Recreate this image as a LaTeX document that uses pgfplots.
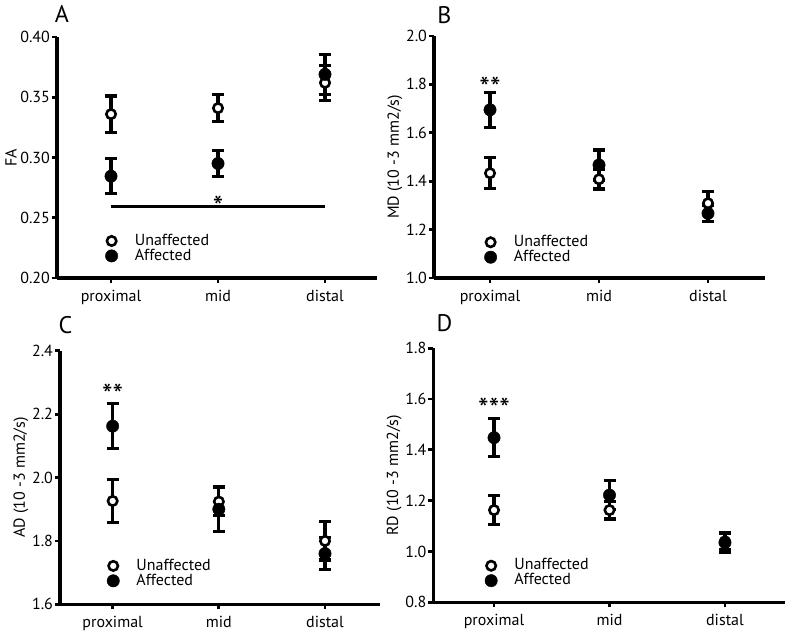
\documentclass[border=0pt]{standalone}
\usepackage{pgfplots}
\pgfplotsset{compat=1.18}
\usepackage{fontspec}
\setmainfont{PT Sans}
\begin{document}
\begin{tikzpicture}
\tikzset{sigstar/.style={font=\fontsize{15}{15}\selectfont, inner sep=0pt},
  panlet/.style={font=\fontsize{12}{12}\selectfont}}
\pgfplotsset{
  panel/.style={
    scale only axis,
    axis x line*=bottom, axis y line*=left,
    axis line style={line width=1.6pt,-},
    tick style={line width=1.4pt,black},
    major tick length=2.5pt,
    tick align=outside,
    xtick={0,1,2}, xticklabels={proximal,mid,distal},
    ticklabel style={font=\fontsize{8}{9}\selectfont},
    label style={font=\fontsize{8}{9}\selectfont},
    yticklabel shift=-2.5pt,
    ylabel shift=-5pt,
    /pgf/number format/assume math mode=true,
    clip=false,
    legend cell align=left,
    legend image code/.code={\draw[##1] plot coordinates {(0pt,0pt)};},
    legend style={draw=none, fill=none, inner sep=0pt, row sep=0.3pt, column sep=8.5pt,
      nodes={inner sep=0pt, font=\fontsize{8}{9}\selectfont}},
  },
  unaff/.style={only marks, mark=*, mark size=2.35pt,
    mark options={fill=white, draw=black, line width=1.3pt},
    error bars/y dir=both, error bars/y explicit,
    error bars/error bar style={line width=1.6pt,black},
    error bars/error mark options={rotate=90, mark size=3pt, line width=1.6pt, black}},
  aff/.style={only marks, mark=*, mark size=3.1pt,
    mark options={fill=black, draw=black, line width=0.2pt},
    error bars/y dir=both, error bars/y explicit,
    error bars/error bar style={line width=1.6pt,black},
    error bars/error mark options={rotate=90, mark size=3pt, line width=1.6pt, black}},
}
\useasboundingbox (0pt,0pt) rectangle (393.5pt,-317.5pt);

% ---------------- A ----------------
\begin{axis}[panel, at={(28.5pt,-139pt)}, anchor=south west,
  width=160pt, height=120.5pt,
  xmin=-0.505, xmax=2.486, ymin=0.2, ymax=0.4,
  ytick={0.20,0.25,0.30,0.35,0.40},
  yticklabel style={/pgf/number format/.cd, fixed, fixed zerofill, precision=2},
  ylabel={FA},
  legend style={at={(axis cs:0,0.232)}, xshift=-3pt, yshift=3pt, anchor=north west}]
\addplot[unaff] table[row sep=\\, x=x, y=y, y error=e] {x y e\\ 0 0.336 0.015\\ 1 0.341 0.011\\ 2 0.362 0.0145\\};
\addplot[aff] table[row sep=\\, x=x, y=y, y error=e] {x y e\\ 0 0.2845 0.0145\\ 1 0.295 0.011\\ 2 0.369 0.0165\\};
\legend{Unaffected, Affected}
\draw[line width=1.6pt] (axis cs:0,0.2592) -- (axis cs:2,0.2592);
\node[sigstar] at (axis cs:1,0.2592) {*};
\end{axis}

% ---------------- B ----------------
\begin{axis}[panel, at={(217pt,-139pt)}, anchor=south west,
  width=165.5pt, height=121pt,
  xmin=-0.514, xmax=2.523, ymin=1.0, ymax=2.0,
  ytick={1.0,1.2,1.4,1.6,1.8,2.0},
  yticklabel style={/pgf/number format/.cd, fixed, fixed zerofill, precision=1},
  ylabel={MD (10 -3 mm2/s)},
  legend style={at={(axis cs:0,1.154)}, xshift=-3pt, yshift=3pt, anchor=north west}]
\addplot[unaff] table[row sep=\\, x=x, y=y, y error=e] {x y e\\ 0 1.433 0.064\\ 1 1.408 0.040\\ 2 1.309 0.048\\};
\addplot[aff] table[row sep=\\, x=x, y=y, y error=e] {x y e\\ 0 1.695 0.073\\ 1 1.467 0.062\\ 2 1.267 0.034\\};
\legend{Unaffected, Affected}
\node[sigstar] at (axis cs:0,1.788) {**};
\end{axis}

% ---------------- C ----------------
\begin{axis}[panel, at={(30pt,-302.15pt)}, anchor=south west,
  width=160pt, height=126.8pt,
  xmin=-0.496, xmax=2.518, ymin=1.6, ymax=2.4,
  ytick={1.6,1.8,2.0,2.2,2.4},
  yticklabel style={/pgf/number format/.cd, fixed, fixed zerofill, precision=1},
  ylabel={AD (10 -3 mm2/s)},
  legend style={at={(axis cs:0,1.726)}, xshift=-3pt, yshift=3pt, anchor=north west}]
\addplot[unaff] table[row sep=\\, x=x, y=y, y error=e] {x y e\\ 0 1.926 0.068\\ 1 1.924 0.044\\ 2 1.800 0.060\\};
\addplot[aff] table[row sep=\\, x=x, y=y, y error=e] {x y e\\ 0 2.162 0.071\\ 1 1.900 0.070\\ 2 1.760 0.050\\};
\legend{Unaffected, Affected}
\node[sigstar] at (axis cs:0,2.262) {**};
\end{axis}

% ---------------- D ----------------
\begin{axis}[panel, at={(216.65pt,-301.15pt)}, anchor=south west,
  width=175.85pt, height=127pt,
  xmin=-0.526, xmax=2.52, ymin=0.8, ymax=1.8,
  ytick={0.8,1.0,1.2,1.4,1.6,1.8},
  yticklabel style={/pgf/number format/.cd, fixed, fixed zerofill, precision=1},
  ylabel={RD (10 -3 mm2/s)},
  legend style={at={(axis cs:-0.03,0.950)}, xshift=-3pt, yshift=3pt, anchor=north west}]
\addplot[unaff] table[row sep=\\, x=x, y=y, y error=e] {x y e\\ 0 1.163 0.058\\ 1 1.163 0.035\\ 2 1.040 0.033\\};
\addplot[aff] table[row sep=\\, x=x, y=y, y error=e] {x y e\\ 0 1.448 0.075\\ 1 1.222 0.058\\ 2 1.035 0.038\\};
\legend{Unaffected, Affected}
\node[sigstar] at (axis cs:0,1.562) {***};
\end{axis}

\node[panlet] at (31pt,-7pt) {A};
\node[panlet] at (222.25pt,-7.5pt) {B};
\node[panlet] at (32.75pt,-162.5pt) {C};
\node[panlet] at (222.25pt,-161.5pt) {D};
\end{tikzpicture}
\end{document}
